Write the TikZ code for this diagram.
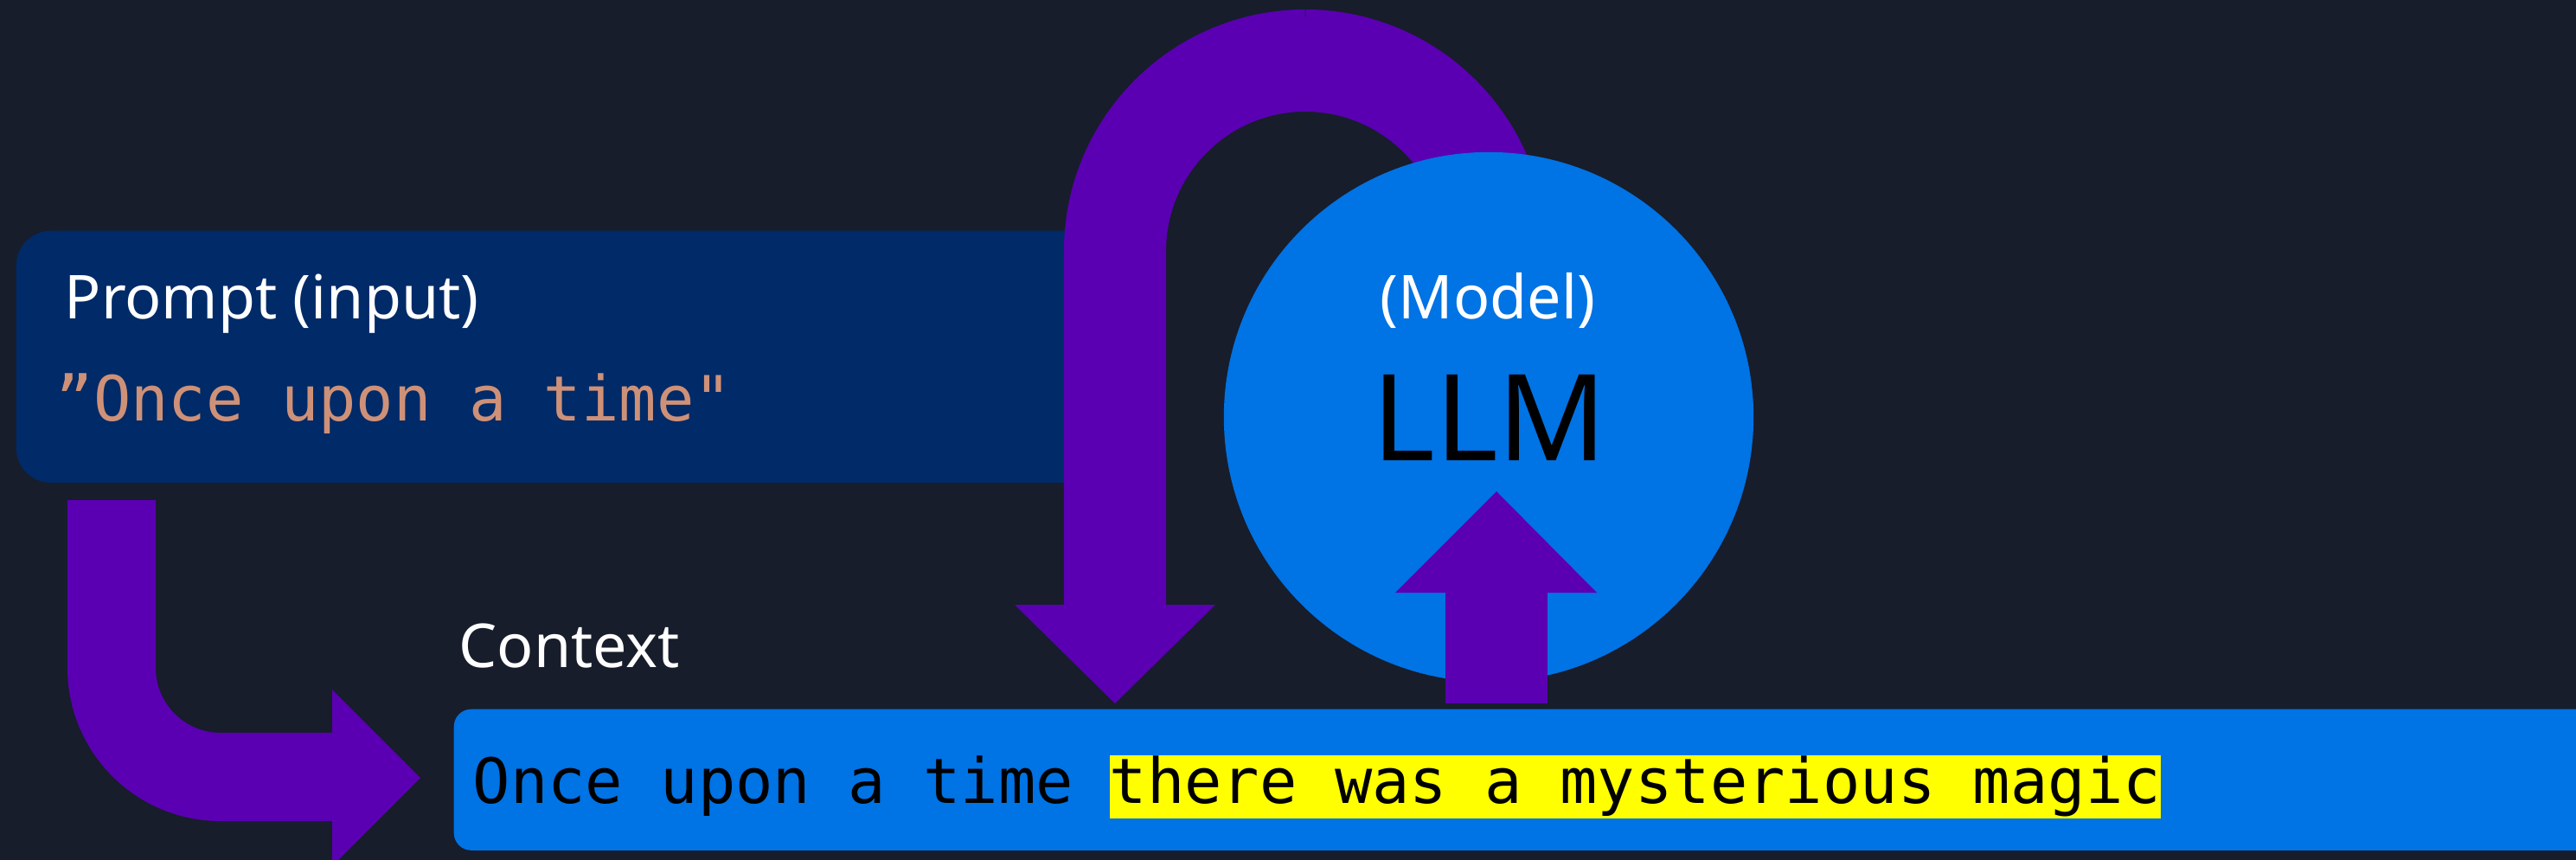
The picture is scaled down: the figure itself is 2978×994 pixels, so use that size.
\documentclass[tikz,border=0pt]{standalone}
\usepackage{fontspec}
\setmainfont{Noto Sans}
\newfontfamily\codefont{DejaVu Sans Mono}
\definecolor{bgc}{RGB}{23,29,43}
\definecolor{promptc}{RGB}{0,42,104}
\definecolor{llmc}{RGB}{0,115,229}
\definecolor{arrowc}{RGB}{90,0,178}
\definecolor{salmonc}{RGB}{206,145,120}
\definecolor{hlc}{RGB}{255,255,0}
\tikzset{
  flow/.style={draw=arrowc},
  head/.style={fill=arrowc},
  lbl/.style={inner sep=0pt, text=white, font=\fontsize{19.9}{24}\selectfont},
  code/.style={inner sep=0pt, font=\codefont\fontsize{20.5}{24}\selectfont},
}
\begin{document}
\begin{tikzpicture}[x=0.01cm,y=-0.01cm]
\useasboundingbox (0,0) rectangle (2978,994);
\fill[bgc] (0,0) rectangle (2978,994);
% prompt box
\node[fill=promptc, rounded corners=0.4cm, minimum width=12.72cm, minimum height=2.91cm, inner sep=0pt, anchor=north west] (prompt) at (18,266) {};
% L-shaped arrow from prompt to context
\coordinate (la) at (129,578);
\coordinate (lb) at (129,898);
\coordinate (lc) at (392,898);
\draw[flow, line width=1.02cm, rounded corners=1.26cm] (la) -- (lb) -- (lc);
\fill[head] (384,797) -- (486,899) -- (384,1001) -- cycle;
% loop arrow from model back to context
\coordinate (ua) at (1289,705);
\coordinate (ub) at (1289,70);
\coordinate (uc) at (1729,70);
\coordinate (ud) at (1729,400);
\draw[flow, line width=1.18cm, rounded corners=2.2cm] (ua) -- (ub) -- (uc) -- (ud);
\fill[head] (1173,699) -- (1405,699) -- (1289,813) -- cycle;
% model circle
\node[circle, fill=llmc, minimum size=6.12cm, inner sep=0pt] (llm) at (1721,482) {};
% up arrow from context into model
\draw[flow, line width=1.17cm] (1730,813) -- (1730,680);
\fill[head] (1613,685) -- (1846,685) -- (1730,568) -- cycle;
% context box
\node[fill=llmc, rounded corners=0.2cm, minimum width=25.04cm, minimum height=1.63cm, inner sep=0pt, anchor=north west] (ctx) at (524,819) {};
% texts
\node[lbl, anchor=base west] (plabel) at (74,368) {Prompt (input)};
\node[code, anchor=base west, text=salmonc] (ptext) at (64,486) {”Once upon a time"};
\node[lbl, anchor=base] (mlabel) at (1720,368) {(Model)};
\node[inner sep=0pt, anchor=base, text=black, font=\fontsize{39.5}{44}\selectfont] (llmtext) at (1722,532) {LLM};
\node[lbl, anchor=base west] (clabel) at (530,771) {Context};
\node[code, anchor=base west, text=black] (ctxa) at (546,928) {Once upon a time};
\node[code, anchor=base west, text=black, fill=hlc, text height=0.55cm, text depth=0.18cm] (ctxb) at (1282,928) {there was a mysterious magic};
\end{tikzpicture}
\end{document}
